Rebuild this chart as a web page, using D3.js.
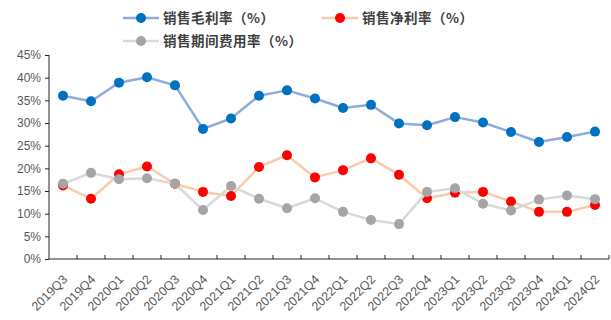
<!DOCTYPE html>
<html><head><meta charset="utf-8">
<script src="https://cdn.jsdelivr.net/npm/d3@7"></script>
<style>body{margin:0;background:#fff}svg{display:block}</style>
</head><body>
<script>
const categories = ["2019Q3","2019Q4","2020Q1","2020Q2","2020Q3","2020Q4","2021Q1","2021Q2","2021Q3","2021Q4","2022Q1","2022Q2","2022Q3","2022Q4","2023Q1","2023Q2","2023Q3","2023Q4","2024Q1","2024Q2"];
const grossMargin = [36.0,34.8,38.9,40.1,38.3,28.7,31.0,36.0,37.2,35.4,33.3,34.0,29.9,29.5,31.3,30.1,28.0,25.8,26.9,28.1];
const netMargin = [16.2,13.3,18.7,20.4,16.6,14.8,13.9,20.3,22.9,18.0,19.6,22.2,18.6,13.4,14.6,14.8,12.7,10.4,10.4,11.9];
const expenseRate = [16.6,19.0,17.6,17.8,16.6,10.8,16.1,13.3,11.2,13.4,10.4,8.6,7.7,14.8,15.6,12.2,10.7,13.1,14.0,13.2];
const yTicks = [0,5,10,15,20,25,30,35,40,45];
const seriesNames = ["销售毛利率（%）","销售净利率（%）","销售期间费用率（%）"];

const W = 611, H = 320;
const svg = d3.select("body").append("svg").attr("width", W).attr("height", H);

const x = d3.scaleBand().domain(categories).range([49, 609]);
const y = d3.scaleLinear().domain([0, 45]).range([259, 55]);

const axisFont = "'Liberation Sans', Arial, sans-serif";

// Y axis
const yAxis = svg.append("g").attr("transform", "translate(49,0)")
  .call(d3.axisLeft(y).tickValues(yTicks).tickFormat(d => d + "%").tickSize(4).tickPadding(4));
yAxis.selectAll("path,line").attr("stroke", "#262626").attr("stroke-width", 1);
yAxis.selectAll("text").attr("fill", "#595959").style("font-family", axisFont).style("font-size", "12px");
yAxis.select(".domain").attr("d", `M0,${y(45)}V${y(0)}`);

// X axis with boundary ticks pointing up
const xg = svg.append("g").attr("transform", `translate(0,${y(0)})`);
xg.append("line").attr("x1", 49).attr("x2", 609).attr("stroke", "#262626").attr("stroke-width", 1);
const bounds = categories.map((c) => x(c) + x.bandwidth());
xg.selectAll("line.tk").data(bounds).join("line").attr("class", "tk")
  .attr("x1", d => d).attr("x2", d => d).attr("y1", 0).attr("y2", -4)
  .attr("stroke", "#262626").attr("stroke-width", 1);
xg.selectAll("text").data(categories).join("text")
  .attr("transform", d => `translate(${x(d) + x.bandwidth()/2 + 2},${18}) rotate(-45)`)
  .attr("text-anchor", "end").attr("dy", "0.35em")
  .attr("fill", "#595959").style("font-family", axisFont).style("font-size", "12.5px")
  .text(d => d);

const series = [
  {name: seriesNames[0], values: grossMargin, line: "#8FAADC", dot: "#0070C0"},
  {name: seriesNames[1], values: netMargin, line: "#F8CBAD", dot: "#FF0000"},
  {name: seriesNames[2], values: expenseRate, line: "#D9D9D9", dot: "#A5A5A5"}
];
const cx = c => x(c) + x.bandwidth()/2;
const lineGen = d3.line().x((d,i) => cx(categories[i])).y(d => y(d));

series.forEach(s => {
  svg.append("path").datum(s.values).attr("d", lineGen)
    .attr("fill", "none").attr("stroke", s.line).attr("stroke-width", 2.5).attr("stroke-linejoin", "round");
  svg.append("g").selectAll("circle").data(s.values).join("circle")
    .attr("cx", (d,i) => cx(categories[i])).attr("cy", d => y(d)).attr("r", 5)
    .attr("fill", s.dot);
});

// Legend
const legendPos = [[123, 18], [322, 18], [123, 41]];
const cjk = "'Noto Sans CJK SC', sans-serif";
series.forEach((s, i) => {
  const [lx, ly] = legendPos[i];
  const g = svg.append("g").attr("transform", `translate(${lx},${ly})`);
  g.append("line").attr("x1", 0).attr("x2", 36).attr("stroke", s.line).attr("stroke-width", 2.5);
  g.append("circle").attr("cx", 18).attr("r", 5).attr("fill", s.dot);
  g.append("text").attr("x", 40).attr("dy", "0.35em").attr("fill", "#404040")
    .style("font-family", cjk).style("font-size", "13.5px").style("font-weight", "bold")
    .style("letter-spacing", "0.5px")
    .text(s.name);
});
</script>
</body></html>
